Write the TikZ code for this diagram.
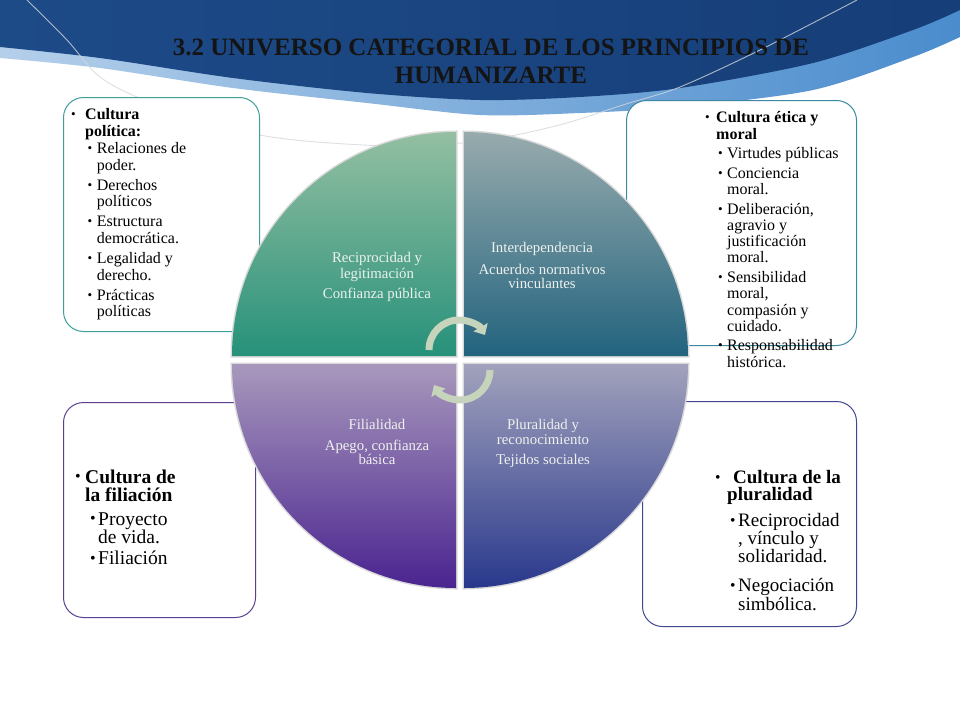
\documentclass[tikz,border=0pt]{standalone}
\usepackage{fontspec}
\setmainfont{Liberation Serif}
\usetikzlibrary{arrows.meta}
\definecolor{tlTop}{HTML}{94BFA2}
\definecolor{tlBot}{HTML}{27917A}
\definecolor{trTop}{HTML}{98ABAD}
\definecolor{trBot}{HTML}{22637E}
\definecolor{blTop}{HTML}{A898BC}
\definecolor{blBot}{HTML}{4A2490}
\definecolor{brTop}{HTML}{A2A2BC}
\definecolor{brBot}{HTML}{29388C}
\definecolor{bdTL}{HTML}{3E9E9C}
\definecolor{bdTR}{HTML}{3C88A2}
\definecolor{bdBL}{HTML}{5C3F90}
\definecolor{bdBR}{HTML}{404690}
\definecolor{bandL}{HTML}{B4CFEA}
\definecolor{bandM}{HTML}{6A9FD6}
\definecolor{bandR}{HTML}{4A8CCD}
\definecolor{darkL}{HTML}{1D4B88}
\definecolor{darkM}{HTML}{3369A6}
\definecolor{darkR}{HTML}{163E78}
\definecolor{grayln}{HTML}{D4D8DC}
\definecolor{qtc}{HTML}{EEF1EE}
\definecolor{arrowc}{HTML}{C6D4BC}
\definecolor{titlec}{HTML}{141414}
\newcommand\bul[2]{\makebox[#2][l]{\hspace*{#1}\raisebox{0.06em}{\scalebox{0.82}{\textbullet}}}}
\begin{document}
\begin{tikzpicture}[x=1pt,y=-1pt,
  bx/.style={draw, fill=white, rounded corners=20pt, line width=1pt, inner sep=0pt, anchor=north west},
  boxtext/.style={inner sep=0pt, align=left, text=black, anchor=north west},
  qtext/.style={inner sep=0pt, align=center, text=qtc, anchor=north},
  qshadow/.style={draw=black!15, line width=3pt},
  circarrow/.style={draw=arrowc, line width=7pt, -{Triangle[width=16pt,length=9pt]}},
  ]
\useasboundingbox (0,0) rectangle (960,720);
\fill[white] (0,0) rectangle (960,720);
% banner
\shade[left color=bandL, middle color=bandM, right color=bandR] (0,0) -- plot[smooth] coordinates {(0,58) (100,68) (233,88) (367,103) (480,115) (580,113) (680,107) (813,90) (913,57) (960,37)} -- (960,0) -- cycle;
\shade[left color=darkL, middle color=darkM, right color=darkR] (0,0) -- plot[smooth] coordinates {(0,47) (100,58) (233,78) (367,93) (480,100) (580,97) (680,88) (813,63) (913,30) (960,10)} -- (960,0) -- cycle;
\draw[grayln, line width=0.9pt, opacity=0.8] plot[smooth] coordinates {(27,0) (67,40) (100,77) (150,102) (260,135) (363,145) (437,145) (500,138) (563,124) (626,104) (680,87) (760,50) (857,0)};
% title
\node[inner sep=0pt, align=center, text=titlec, font=\fontsize{25}{28}\selectfont\bfseries] (title) at (491,61) {3.2 UNIVERSO CATEGORIAL DE LOS PRINCIPIOS DE\\HUMANIZARTE};
% boxes
\node[bx, draw=bdTL, minimum width=196pt, minimum height=234pt] (boxTL) at (63,97) {};
\node[bx, draw=bdTR, minimum width=230pt, minimum height=245pt] (boxTR) at (626,100) {};
\node[bx, draw=bdBL, minimum width=192pt, minimum height=215pt] (boxBL) at (63,402) {};
\node[bx, draw=bdBR, minimum width=214pt, minimum height=225pt] (boxBR) at (642,401) {};
% box texts
\node[boxtext, font=\fontsize{16}{16.7}\selectfont] (tTL) at (71,108.6) {%
\bul{0pt}{14pt}\textbf{Cultura}\\
\hspace*{14pt}\textbf{política:}\\
\bul{16.5pt}{25.7pt}Relaciones de\\
\hspace*{25.7pt}poder.\\[3.3pt]
\bul{16.5pt}{25.7pt}Derechos\\
\hspace*{25.7pt}políticos\\[3.3pt]
\bul{16.5pt}{25.7pt}Estructura\\
\hspace*{25.7pt}democrática.\\[3.3pt]
\bul{16.5pt}{25.7pt}Legalidad y\\
\hspace*{25.7pt}derecho.\\[3.3pt]
\bul{16.5pt}{25.7pt}Prácticas\\
\hspace*{25.7pt}políticas};
\node[boxtext, font=\fontsize{16}{16.3}\selectfont] (tTR) at (705,111.6) {%
\bul{0pt}{11pt}\textbf{Cultura ética y}\\
\hspace*{11pt}\textbf{moral}\\[3.2pt]
\bul{13pt}{22pt}Virtudes públicas\\[3.2pt]
\bul{13pt}{22pt}Conciencia\\
\hspace*{22pt}moral.\\[3.2pt]
\bul{13pt}{22pt}Deliberación,\\
\hspace*{22pt}agravio y\\
\hspace*{22pt}justificación\\
\hspace*{22pt}moral.\\[3.2pt]
\bul{13pt}{22pt}Sensibilidad\\
\hspace*{22pt}moral,\\
\hspace*{22pt}compasión y\\
\hspace*{22pt}cuidado.\\[3.2pt]
\bul{13pt}{22pt}Responsabilidad\\
\hspace*{22pt}histórica.};
\node[boxtext, font=\fontsize{19.5}{18.5}\selectfont] (tBL) at (75,469.3) {%
\bul{0pt}{10pt}\textbf{Cultura de}\\
\hspace*{10pt}\textbf{la filiación}\\[5pt]
\bul{15pt}{23pt}Proyecto\\
\hspace*{23pt}de vida.\\[2.5pt]
\bul{15pt}{23pt}Filiación};
\node[boxtext, font=\fontsize{19}{17}\selectfont] (tBR) at (715,469.8) {%
\bul{0pt}{12pt}\hspace*{6pt}\textbf{Cultura de la}\\
\hspace*{12pt}\textbf{pluralidad}\\[8pt]
\bul{15pt}{23pt}Reciprocidad\\
\hspace*{23pt}, vínculo y\\
\hspace*{23pt}solidaridad.\\[12pt]
\bul{15pt}{23pt}Negociación\\
\hspace*{23pt}simbólica.};
% circle quadrants: shadows
\draw[qshadow] (456,356) -- (232,356) arc[start angle=180, end angle=270, radius=224] -- cycle;
\draw[qshadow] (464,356) -- (464,132) arc[start angle=270, end angle=360, radius=224] -- cycle;
\draw[qshadow] (456,364) -- (456,588) arc[start angle=90, end angle=180, radius=224] -- cycle;
\draw[qshadow] (464,364) -- (688,364) arc[start angle=0, end angle=90, radius=224] -- cycle;
% fills
\shade[top color=tlTop, bottom color=tlBot] (456,356) -- (232,356) arc[start angle=180, end angle=270, radius=224] -- cycle;
\shade[top color=trTop, bottom color=trBot] (464,356) -- (464,132) arc[start angle=270, end angle=360, radius=224] -- cycle;
\shade[top color=blTop, bottom color=blBot] (456,364) -- (456,588) arc[start angle=90, end angle=180, radius=224] -- cycle;
\shade[top color=brTop, bottom color=brBot] (464,364) -- (688,364) arc[start angle=0, end angle=90, radius=224] -- cycle;
% quadrant texts
\node[qtext, font=\fontsize{14.8}{15.7}\selectfont] (qTL) at (377,252) {Reciprocidad y\\legitimación\\[4.3pt]Confianza pública};
\node[qtext, font=\fontsize{14.8}{14}\selectfont] (qTR) at (542,242.4) {Interdependencia\\[8pt]Acuerdos normativos\\vinculantes};
\node[qtext, font=\fontsize{14.8}{14}\selectfont] (qBL) at (377,419) {Filialidad\\[7pt]Apego, confianza\\básica};
\node[qtext, font=\fontsize{14.8}{15}\selectfont] (qBR) at (543,419) {Pluralidad y\\reconocimiento\\[5pt]Tejidos sociales};
% circular arrows
\draw[circarrow] (429,350) arc[start angle=180, end angle=330, radius=30];
\draw[circarrow] (490,370) arc[start angle=0, end angle=150, radius=30];
\end{tikzpicture}
\end{document}
